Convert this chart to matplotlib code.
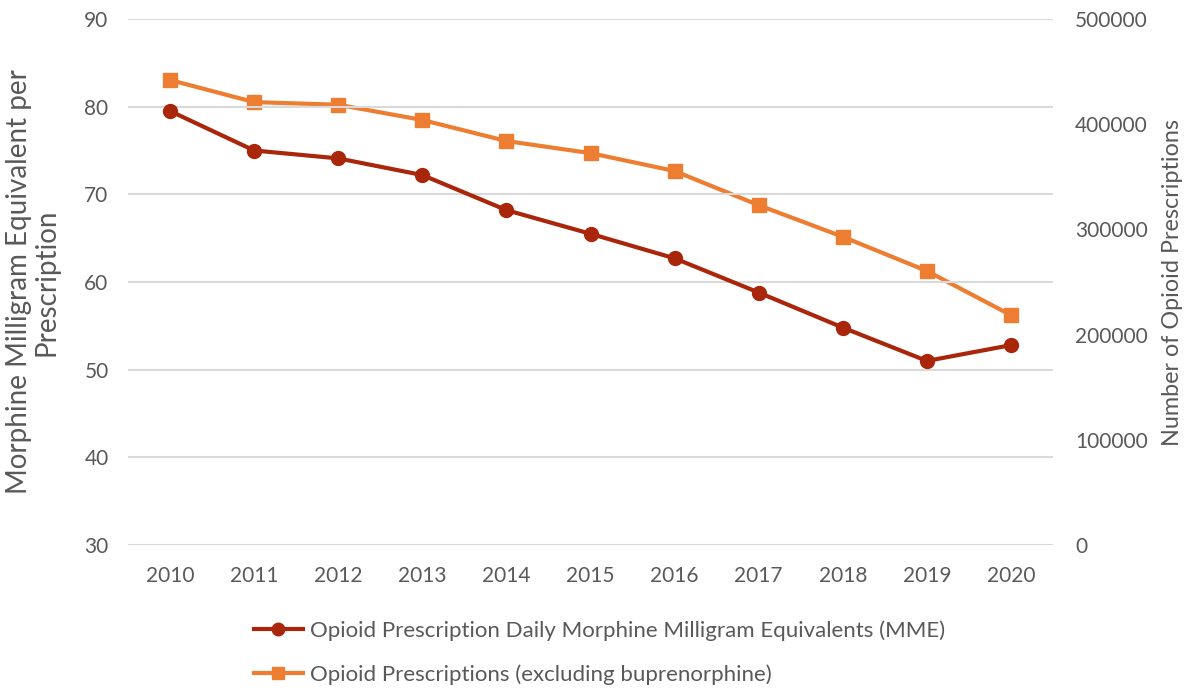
import numpy as np
import matplotlib.pyplot as plt

plt.rcParams['font.family'] = ['Lato', 'DejaVu Sans']

years = ['2010', '2011', '2012', '2013', '2014', '2015', '2016', '2017', '2018', '2019', '2020']
mme = [79.5, 75.0, 74.1, 72.2, 68.2, 65.5, 62.7, 58.8, 54.8, 51.0, 52.8]
prescriptions = [442000, 421000, 418500, 404000, 384000, 372500, 355500, 323000, 293000, 260500, 218500]

red = '#a9260b'
orange = '#ed7d31'
txt = '#595959'

fig = plt.figure(figsize=(11.92, 6.88), dpi=100)
ax = fig.add_axes([0.1074, 0.2078, 0.776, 0.7646])
ax2 = ax.twinx()

x = np.arange(len(years))
l1, = ax.plot(x, mme, color=red, lw=3, marker='o', ms=10,
              label='Opioid Prescription Daily Morphine Milligram Equivalents (MME)')
l2, = ax2.plot(x, prescriptions, color=orange, lw=3, marker='s', ms=10,
               label='Opioid Prescriptions (excluding buprenorphine)')

ax.set_zorder(ax2.get_zorder() + 1)
ax.patch.set_visible(False)

ax.set_xlim(-0.5, len(years) - 0.5)
ax.set_ylim(30, 90)
ax.set_yticks(range(30, 91, 10))
ax2.set_ylim(0, 500000)
ax2.set_yticks(range(0, 500001, 100000))
ax.set_xticks(x)
ax.set_xticklabels(years)

ax.grid(axis='y', color='#d9d9d9', lw=1.5)
ax.set_axisbelow(True)
for a in (ax, ax2):
    for s in a.spines.values():
        s.set_visible(False)
    a.tick_params(length=0, labelsize=15, colors=txt, pad=14)
ax.tick_params(axis='x', pad=15)
ax2.tick_params(axis='y', pad=16)

ax.set_ylabel('Morphine Milligram Equivalent per\nPrescription', fontsize=20, color=txt, labelpad=18, linespacing=1.05)
ax2.set_ylabel('Number of Opioid Prescriptions', fontsize=16.8, color=txt, labelpad=10)

fig.legend(handles=[l1, l2], loc='upper center', bbox_to_anchor=(0.503, 0.115),
           ncol=1, frameon=False, fontsize=16, labelcolor=txt, handlelength=2.2,
           handletextpad=0.35, labelspacing=1.05, borderpad=0, markerscale=0.9)

fig.savefig('out.png', dpi=100)
